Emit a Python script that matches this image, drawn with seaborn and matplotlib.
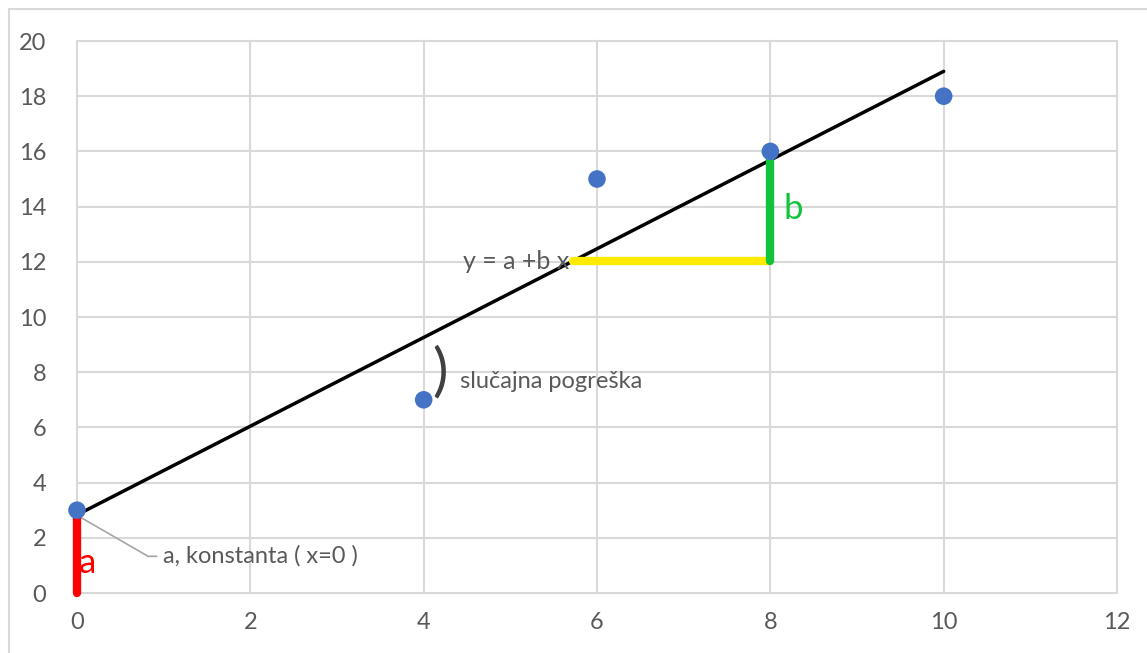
import numpy as np
import pandas as pd
import matplotlib.pyplot as plt
import matplotlib.patches as patches
import seaborn as sns

# data
x_points = [0, 4, 6, 8, 10]
y_points = [3, 7, 15, 16, 18]
line_x = [0, 10]
line_y = [2.83, 18.9]
red_x = [0, 0]
red_y = [0, 2.75]
yellow_x = [5.72, 8.0]
yellow_y = [12.03, 12.03]
green_x = [8.0, 8.0]
green_y = [12.03, 15.75]
x_ticks = [0, 2, 4, 6, 8, 10, 12]
y_ticks = [0, 2, 4, 6, 8, 10, 12, 14, 16, 18, 20]

sns.set_style('white')
plt.rcParams['font.family'] = ['Lato', 'DejaVu Sans']

fig = plt.figure(figsize=(11.47, 6.53), dpi=100)
ax = fig.add_axes([77 / 1147, 1 - 593 / 653, 1040 / 1147, 552 / 653])

# outer chart border
fig.patches.append(patches.Rectangle((9 / 1147, -0.05), 1.1, 1 - 9 / 653 + 0.05,
                                     transform=fig.transFigure, fill=False,
                                     edgecolor='#D9D9D9', linewidth=1.5))

pts = pd.DataFrame({'x': x_points, 'y': y_points})
lin = pd.DataFrame({'x': line_x, 'y': line_y})

sns.lineplot(data=lin, x='x', y='y', ax=ax, color='black', linewidth=2.5, zorder=3)
ax.plot(red_x, red_y, color='#FF0000', linewidth=6, solid_capstyle='round', zorder=4, clip_on=False)
ax.plot(yellow_x, yellow_y, color='#FFEB00', linewidth=6, solid_capstyle='round', zorder=4)
ax.plot(green_x, green_y, color='#12C43C', linewidth=6, solid_capstyle='round', zorder=4)
sns.scatterplot(data=pts, x='x', y='y', ax=ax, color='#4472C4', s=160,
                edgecolor='none', zorder=5, clip_on=False)

# annotations
gray = '#595959'
ax.text(5.68, 12.0, 'y = a +b x', fontsize=18, color=gray, ha='right', va='center', zorder=6)
ax.text(8.15, 13.9, 'b', fontsize=25, color='#12C43C', ha='left', va='center')
ax.text(0.02, 1.1, 'a', fontsize=25, color='#FF0000', ha='left', va='center')
ax.plot([0.02, 0.82, 0.92], [2.78, 1.33, 1.33], color='#A6A6A6', linewidth=1.2, zorder=2)
ax.text(0.99, 1.33, 'a, konstanta ( x=0 )', fontsize=17, color=gray, ha='left', va='center')
ax.text(4.1, 8.0, ')', fontsize=42, color='#404040', ha='left', va='center')
ax.text(4.42, 7.65, 'slučajna pogreška', fontsize=17, color=gray, ha='left', va='center')

ax.set_xlim(0, 12)
ax.set_ylim(0, 20)
ax.set_xticks(x_ticks)
ax.set_yticks(y_ticks)
ax.grid(True, color='#D9D9D9', linewidth=1.5)
ax.set_axisbelow(True)
for s in ax.spines.values():
    s.set_visible(False)
ax.tick_params(axis='both', length=0, labelsize=17, labelcolor=gray)
ax.tick_params(axis='y', pad=22)
ax.tick_params(axis='x', pad=14)
ax.set_xlabel('')
ax.set_ylabel('')
for line in ax.get_xgridlines() + ax.get_ygridlines():
    line.set_clip_on(False)

fig.savefig('out.png', dpi=100)
